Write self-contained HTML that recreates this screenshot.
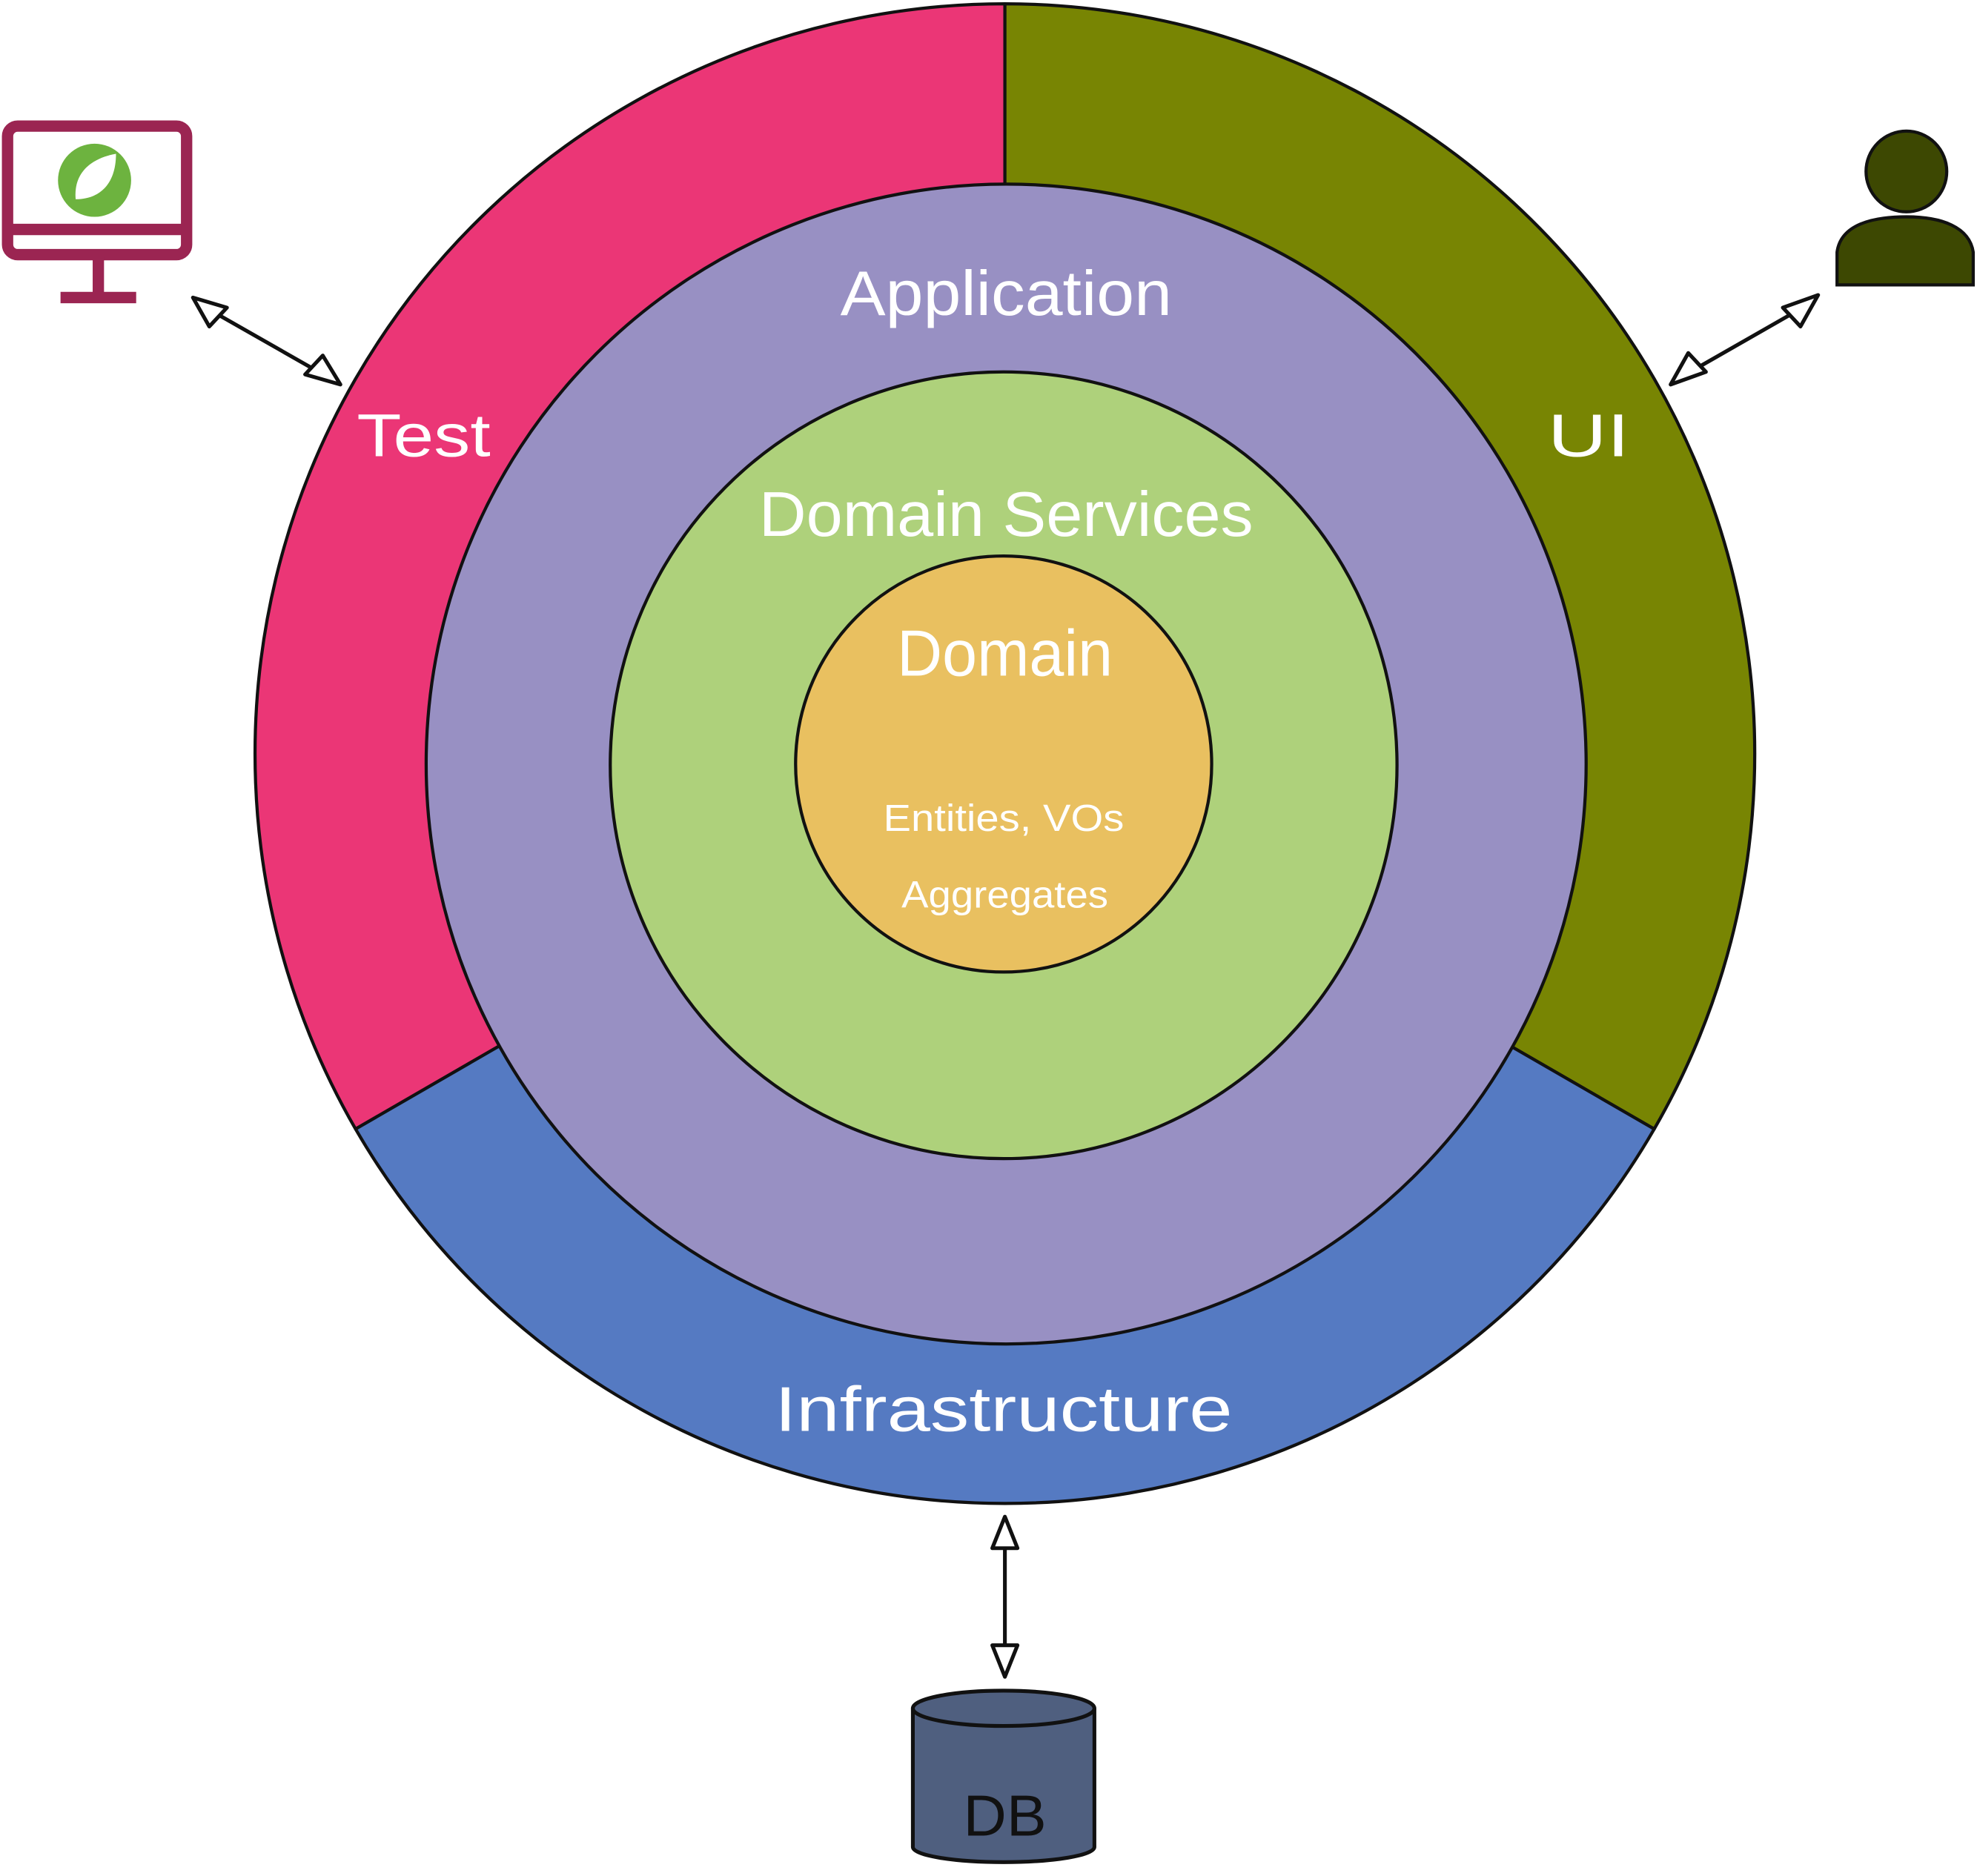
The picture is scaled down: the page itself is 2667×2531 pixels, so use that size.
<!DOCTYPE html>
<html><head><meta charset="utf-8"><style>
html,body{margin:0;padding:0;background:#fff;}
svg{display:block;}
text{font-family:"Liberation Sans",sans-serif;fill:#fff;text-anchor:middle;}
</style></head><body>
<svg width="2667" height="2531" viewBox="0 0 1568 1488" preserveAspectRatio="none" xmlns="http://www.w3.org/2000/svg">
<g stroke="#111" stroke-width="2.5" stroke-linejoin="round">
<path d="M797,598 L797,3 A595,595 0 0 0 282,895.5 Z" fill="#EB3676"/>
<path d="M797,598 L797,3 A595,595 0 0 1 1312,895.5 Z" fill="#788503"/>
<path d="M797,598 L282,895.5 A595,595 0 0 0 1312,895.5 Z" fill="#557AC2"/>
<circle cx="798" cy="606" r="460" fill="#9890C3"/>
<circle cx="796" cy="607" r="312" fill="#AED17B"/>
<circle cx="796" cy="606" r="165" fill="#E9C060"/>
</g>
<text x="798" y="250" font-size="50" textLength="263" lengthAdjust="spacingAndGlyphs">Application</text>
<text x="336" y="362" font-size="48" textLength="106" lengthAdjust="spacingAndGlyphs">Test</text>
<text x="1260" y="362" font-size="48" textLength="65" lengthAdjust="spacingAndGlyphs">UI</text>
<text x="798" y="425" font-size="50" textLength="392" lengthAdjust="spacingAndGlyphs">Domain Services</text>
<text x="797" y="536" font-size="52" textLength="171" lengthAdjust="spacingAndGlyphs">Domain</text>
<text x="796" y="659" font-size="30" textLength="191" lengthAdjust="spacingAndGlyphs">Entities, VOs</text>
<text x="797" y="720" font-size="30" textLength="164" lengthAdjust="spacingAndGlyphs">Aggregates</text>
<text x="796" y="1135" font-size="50" textLength="363" lengthAdjust="spacingAndGlyphs">Infrastructure</text>
<g fill="none" stroke="#9B2552" stroke-width="9" stroke-linejoin="round">
<rect x="6" y="100" width="142" height="102" rx="8"/>
<line x1="10" y1="182" x2="144" y2="182"/>
<line x1="78" y1="204" x2="78" y2="234"/>
<line x1="48" y1="236" x2="108" y2="236"/>
</g>
<circle cx="75" cy="143" r="29" fill="#6DB33F"/>
<path d="M60,158 C58,135 75,125 92,122 C92,145 80,158 60,158 Z" fill="#fff"/>
<circle cx="1512" cy="136" r="32" fill="#3D4802" stroke="#111" stroke-width="2.5"/>
<path d="M1457,226 L1457,200 C1460,178 1485,172 1512,172 C1540,172 1562,180 1565,200 L1565,226 Z" fill="#3D4802" stroke="#111" stroke-width="2.5"/>
<path d="M724,1355 L724,1465 A72,12 0 0 0 868,1465 L868,1355" fill="#4F5F7F" stroke="#111" stroke-width="3"/>
<ellipse cx="796" cy="1355" rx="72" ry="14" fill="#4F5F7F" stroke="#111" stroke-width="3"/>
<text x="797" y="1456" font-size="46" textLength="66" lengthAdjust="spacingAndGlyphs" style="fill:#111">DB</text>
<g stroke="#111" stroke-width="3" fill="none">
<line x1="165" y1="245" x2="258" y2="298"/>
<line x1="1428" y1="245" x2="1337" y2="297"/>
<line x1="797" y1="1220" x2="797" y2="1315"/>
</g>
<g fill="#fff" stroke="#111" stroke-width="3" stroke-linejoin="round">
<polygon points="153,236 180,244 166,259"/>
<polygon points="270,305 242,297 256,282"/>
<polygon points="1442,234 1428,259 1414,244"/>
<polygon points="1325,305 1339,280 1353,295"/>
<polygon points="797,1203 787,1228 807,1228"/>
<polygon points="797,1330 787,1305 807,1305"/>
</g>
</svg>
</body></html>
